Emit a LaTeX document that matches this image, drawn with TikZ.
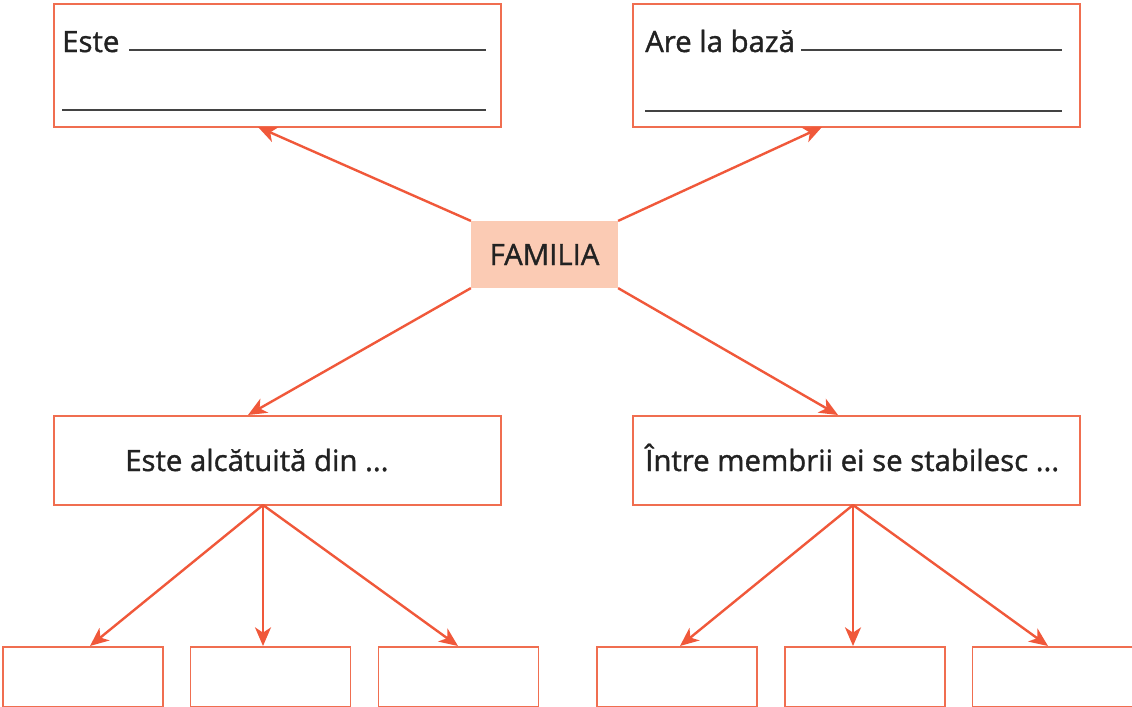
\documentclass[tikz,border=0pt]{standalone}
\usepackage{fontspec}
\setmainfont{Open Sans}[FakeBold=1.2]
\usetikzlibrary{arrows.meta,calc}
\definecolor{arr}{HTML}{F0583A}
\definecolor{bord}{HTML}{F06E50}
\definecolor{famfill}{HTML}{FBCBB4}
\definecolor{txt}{HTML}{222222}
\tikzset{
  box/.style={draw=bord, line width=1.3pt, rectangle, inner sep=0pt},
  conn/.style={draw=arr, line width=1.8pt, -{Stealth[length=14pt,width=12pt,inset=4pt]}},
  lbl/.style={font=\fontsize{22}{26}\selectfont, text=txt, inner sep=0pt, anchor=base west},
  rule/.style={draw=txt!85, line width=1pt}
}
\begin{document}
\begin{tikzpicture}[x=0.75pt,y=-0.75pt]
\useasboundingbox (0,0) rectangle (1132,707);
% top boxes
\node[box, minimum width=335.25pt, minimum height=92.25pt] (tl) at (277.5,65.5) {};
\node[box, minimum width=335.25pt, minimum height=92.25pt] (tr) at (856.5,65.5) {};
% FAMILIA
\node[fill=famfill, minimum width=110pt, minimum height=50pt, inner sep=0pt, font=\fontsize{22}{26}\selectfont, text=txt] (fam) at (544.5,254.5) {FAMILIA};
% middle boxes
\node[box, minimum width=335.25pt, minimum height=66.75pt] (ml) at (277.5,460.5) {};
\node[box, minimum width=335.25pt, minimum height=66.75pt] (mr) at (856.5,460.5) {};
% bottom boxes
\foreach \n/\x in {b1/83, b2/270.5, b3/458.5, b4/677, b5/865, b6/1052.5}{
  \node[box, minimum width=120pt, minimum height=45pt] (\n) at (\x,677) {};
}
% texts
\node[lbl] (t1) at (62,52) {Este};
\draw[rule] (129,50) coordinate (r1a) -- (486,50) coordinate (r1b);
\draw[rule] (62,110) coordinate (r2a) -- (486,110) coordinate (r2b);
\node[lbl] (t2) at (645,52) {Are la bază};
\draw[rule] (801,50) coordinate (r3a) -- (1062,50) coordinate (r3b);
\draw[rule] (645,111) coordinate (r4a) -- (1062,111) coordinate (r4b);
\node[lbl] (t3) at (125,471) {Este alcătuită din ...};
\node[lbl] (t4) at (645,471) {Între membrii ei se stabilesc ...};
% arrow targets
\coordinate (e1) at (258,127);
\coordinate (e2) at (822,127);
\coordinate (e3) at (248,415);
\coordinate (e4) at (838,415);
\coordinate (s1) at (263,505);
\coordinate (s2) at (853,505);
\coordinate (f1) at (90,646);
\coordinate (f2) at (263,646);
\coordinate (f3) at (458,646);
\coordinate (f4) at (680,646);
\coordinate (f5) at (853,646);
\coordinate (f6) at (1048,646);
\draw[conn] (fam.north west) -- (e1);
\draw[conn] (fam.north east) -- (e2);
\draw[conn] (fam.south west) -- (e3);
\draw[conn] (fam.south east) -- (e4);
\draw[conn] (s1) -- (f1);
\draw[conn] (s1) -- (f2);
\draw[conn] (s1) -- (f3);
\draw[conn] (s2) -- (f4);
\draw[conn] (s2) -- (f5);
\draw[conn] (s2) -- (f6);
\end{tikzpicture}
\end{document}
